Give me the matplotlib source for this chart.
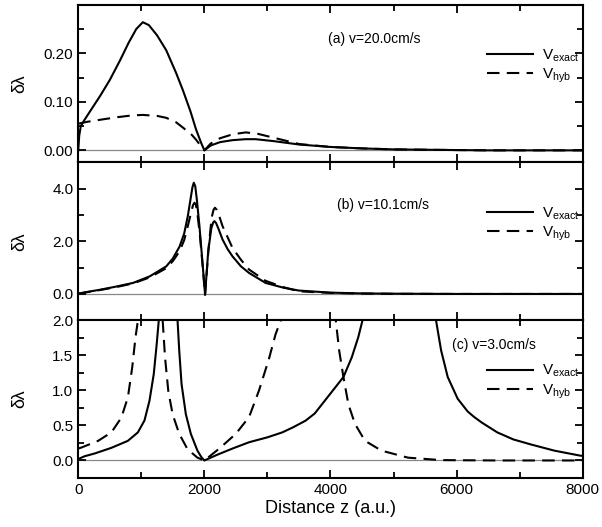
import matplotlib
matplotlib.use('Agg')
from matplotlib import pyplot as plt
from matplotlib.ticker import MultipleLocator, FormatStrFormatter

plt.rcParams['font.family'] = ['Liberation Sans', 'DejaVu Sans']
plt.rcParams['mathtext.fontset'] = 'custom'
plt.rcParams['mathtext.rm'] = 'Liberation Sans'

# panel (a) v=20.0cm/s
za_exact = [0, 15, 40, 100, 200, 346, 500, 661, 800, 920, 1024, 1120, 1250, 1396, 1550, 1659, 1780, 1868, 1950, 2000,
            2100, 2250, 2446, 2650, 2813, 3100, 3504, 4000, 4500, 5000, 5700, 6500, 8000]
a_exact = [0.0, 0.03, 0.05, 0.063, 0.083, 0.112, 0.145, 0.185, 0.222, 0.25, 0.264, 0.258, 0.237, 0.206, 0.16, 0.124,
           0.08, 0.043, 0.015, 0.0,
           0.01, 0.017, 0.021, 0.023, 0.023, 0.019, 0.012, 0.007, 0.004, 0.002, 0.001, 0.0, 0.0]
za_hyb = [0, 150, 346, 600, 850, 1024, 1250, 1396, 1550, 1659, 1800, 1868, 1950, 2000,
          2100, 2250, 2446, 2656, 2850, 3100, 3504, 4000, 4500, 5000, 5700, 6500, 8000]
a_hyb = [0.055, 0.059, 0.063, 0.068, 0.072, 0.073, 0.071, 0.067, 0.058, 0.047, 0.032, 0.022, 0.008, 0.0,
         0.014, 0.025, 0.033, 0.037, 0.034, 0.026, 0.013, 0.007, 0.004, 0.002, 0.001, 0.0, 0.0]

# panel (b) v=10.1cm/s
zb_exact = [0, 100, 346, 600, 870, 1134, 1396, 1500, 1606, 1680, 1737, 1780, 1810, 1832, 1855, 1880, 1921, 1970, 2011,
            2060, 2110, 2140, 2158, 2185, 2220, 2288, 2370, 2446, 2580, 2708, 2970, 3250, 3496, 4000, 4500, 5000,
            6000, 8000]
b_exact = [0.0, 0.06, 0.16, 0.28, 0.42, 0.67, 1.05, 1.35, 1.8, 2.3, 2.96, 3.6, 4.05, 4.23, 4.1, 3.6, 2.6, 1.2, -0.03,
           1.6, 2.5, 2.72, 2.77, 2.7, 2.5, 2.07, 1.7, 1.43, 1.05, 0.8, 0.42, 0.24, 0.13, 0.05, 0.02, 0.01,
           0.0, 0.0]
zb_hyb = [0, 100, 346, 600, 870, 1134, 1396, 1500, 1606, 1680, 1737, 1790, 1820, 1843, 1865, 1890, 1930, 1975, 2011,
          2065, 2115, 2145, 2168, 2195, 2230, 2288, 2370, 2446, 2580, 2708, 2970, 3250, 3496, 4000, 4500, 5000,
          6000, 8000]
b_hyb = [0.02, 0.05, 0.15, 0.26, 0.4, 0.63, 0.98, 1.25, 1.62, 2.05, 2.58, 3.1, 3.38, 3.47, 3.4, 3.05, 2.2, 1.0, -0.03,
         1.7, 2.9, 3.2, 3.28, 3.2, 3.0, 2.58, 2.15, 1.75, 1.3, 0.93, 0.5, 0.26, 0.1, 0.04, 0.015, 0.005,
         0.0, 0.0]

# panel (c) v=3.0cm/s
zc_exact = [0, 100, 262, 525, 787, 945, 1050, 1129, 1197, 1244, 1276, 1310, 1420, 1550, 1575, 1601, 1638, 1706,
            1785, 1890, 1950, 2000,
            2200, 2446, 2709, 3000, 3234, 3400, 3602, 3750, 3864, 4074, 4205, 4337, 4441, 4505, 4560, 5100,
            5620, 5675, 5754, 5859, 6017, 6174, 6278, 6400, 6646, 6900, 7171, 7550, 7953, 8000]
c_exact = [0.02, 0.06, 0.1, 0.18, 0.28, 0.4, 0.57, 0.85, 1.23, 1.66, 1.99, 2.6, 4.0, 2.4, 1.99, 1.57, 1.09, 0.66,
           0.38, 0.14, 0.05, 0.0,
           0.08, 0.17, 0.26, 0.33, 0.4, 0.47, 0.566, 0.67, 0.8, 1.04, 1.19, 1.47, 1.76, 1.99, 2.4, 4.0,
           2.4, 1.99, 1.57, 1.19, 0.88, 0.7, 0.62, 0.54, 0.4, 0.3, 0.23, 0.14, 0.07, 0.065]
zc_hyb = [0, 52, 315, 525, 683, 787, 856, 908, 945, 980, 1150, 1310, 1339, 1376, 1428, 1496, 1601, 1733, 1890, 2000,
          2237, 2499, 2709, 2867, 3024, 3129, 3208, 3250, 3650, 4050, 4085, 4137, 4205, 4284, 4389, 4547, 4809,
          5229, 5754, 6646, 8000]
c_hyb = [0.17, 0.185, 0.28, 0.4, 0.61, 0.9, 1.33, 1.76, 1.99, 2.4, 4.0, 2.4, 1.99, 1.47, 0.99, 0.66, 0.38, 0.16, 0.04,
         0.0,
         0.17, 0.38, 0.62, 1.0, 1.45, 1.8, 1.99, 2.4, 4.0, 2.4, 1.99, 1.57, 1.19, 0.8, 0.52, 0.28, 0.14,
         0.04, 0.005, 0.0, 0.0]

labels = ['(a) v=20.0cm/s', '(b) v=10.1cm/s', '(c) v=3.0cm/s']

panels = [(za_exact, a_exact, za_hyb, a_hyb), (zb_exact, b_exact, zb_hyb, b_hyb), (zc_exact, c_exact, zc_hyb, c_hyb)]
ylims = [(-0.025, 0.30), (-1.0, 5.0), (-0.25, 2.0)]
yticks = [[0.0, 0.1, 0.2], [0.0, 2.0, 4.0], [0.0, 0.5, 1.0, 1.5, 2.0]]
minors = [0.05, 1.0, 0.25]
fmts = ['%.2f', '%.1f', '%.1f']
text_pos = [(0.495, 0.78), (0.513, 0.73), (0.74, 0.84)]

fig, axes = plt.subplots(3, 1, sharex=True, figsize=(6.02, 5.27), dpi=100)
fig.subplots_adjust(left=0.13, right=0.968, top=0.991, bottom=0.093, hspace=0)

for i, ax in enumerate(axes):
    ze, ve, zh, vh = panels[i]
    ax.axhline(0, color='#888888', lw=0.9, zorder=1)
    ax.plot(ze, ve, color='black', lw=1.5, label=r'$\mathregular{V_{exact}}$', zorder=3)
    ax.plot(zh, vh, color='black', lw=1.5, ls=(0, (6, 3.5)), label=r'$\mathregular{V_{hyb}}$', zorder=3)
    ax.set_xlim(0, 8000)
    ax.set_ylim(*ylims[i])
    ax.set_yticks(yticks[i])
    ax.yaxis.set_minor_locator(MultipleLocator(minors[i]))
    ax.yaxis.set_major_formatter(FormatStrFormatter(fmts[i]))
    ax.xaxis.set_major_locator(MultipleLocator(2000))
    ax.xaxis.set_minor_locator(MultipleLocator(1000))
    ax.tick_params(which='both', direction='in', top=True, right=True, labelsize=11, width=1.3)
    ax.tick_params(which='major', length=6)
    ax.tick_params(which='minor', length=4)
    for s in ax.spines.values():
        s.set_linewidth(1.5)
    ax.set_ylabel('δλ', fontsize=13)
    ax.yaxis.set_label_coords(-0.1, 0.5)
    ax.text(text_pos[i][0], text_pos[i][1], labels[i], transform=ax.transAxes, fontsize=10, va='center')
    ax.legend(loc='center left', bbox_to_anchor=(0.81, 0.61), frameon=False, fontsize=11,
              handlelength=3.0, handletextpad=0.6, labelspacing=0.2, borderaxespad=0, borderpad=0)

axes[2].set_xlabel('Distance z (a.u.)', fontsize=13, labelpad=2)

plt.savefig('out.png', dpi=100)
